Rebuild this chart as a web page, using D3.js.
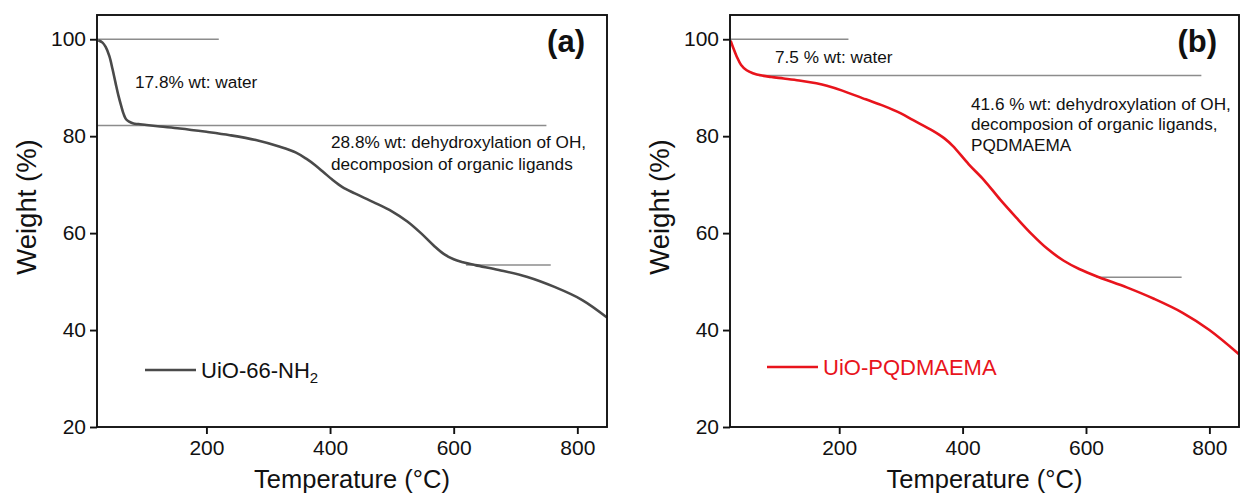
<!DOCTYPE html>
<html>
<head>
<meta charset="utf-8">
<script src="https://cdn.jsdelivr.net/npm/d3@7"></script>
<style>
  body { margin: 0; background: #fff; }
  svg text { font-family: "Liberation Sans", Arial, Helvetica, sans-serif; fill: #111; }
</style>
</head>
<body>
<svg id="chart" width="1241" height="494"></svg>
<script>
// (a) UiO-66-NH2, TGA curve
var tempA   = [25, 32, 37, 43, 48, 53, 58, 62, 66, 70, 75, 82, 90, 103, 125, 157, 200, 238, 280, 319, 345, 362, 376, 390, 403, 420, 440, 470, 500, 525, 547, 568, 585, 600, 615, 635, 673, 718, 763, 808, 848];
var weightA = [99.8, 99.3, 98.4, 96.5, 93.9, 91, 88.2, 86.3, 84.6, 83.5, 83, 82.6, 82.5, 82.3, 82, 81.6, 80.9, 80.2, 79.2, 77.8, 76.6, 75.3, 74, 72.5, 71.1, 69.5, 68.2, 66.4, 64.5, 62.4, 60, 57.4, 55.6, 54.6, 54, 53.4, 52.4, 51, 48.9, 46.2, 42.6];

// (b) UiO-PQDMAEMA
var tempB   = [24, 28, 34, 41, 50, 60, 75, 90, 110, 135, 163, 180, 205, 243, 271, 300, 320, 352, 370, 384, 410, 435, 461, 487, 512, 538, 564, 589, 621, 666, 711, 756, 800, 848];
var weightB = [99.7, 98.3, 96.4, 94.7, 93.6, 93, 92.5, 92.2, 91.9, 91.5, 90.9, 90.4, 89.4, 87.6, 86.3, 84.7, 83.3, 81.1, 79.6, 78, 74.2, 70.9, 66.9, 63.2, 59.8, 56.7, 54.3, 52.6, 50.9, 48.8, 46.4, 43.6, 40, 35];

var xTicks = [200, 400, 600, 800];
var yTicks = [20, 40, 60, 80, 100];
var xDomain = [23, 848];
var yDomain = [20, 105];

// weight-loss step guides: [weight, from temp, to temp]
var stepsA = [[100, 23, 220], [82.2, 23, 750], [53.4, 620, 757]];
var stepsB = [[100, 23, 215], [92.5, 70, 787], [50.9, 617, 755]];

var notesA1 = ["17.8% wt: water"];
var notesA2 = ["28.8% wt: dehydroxylation of OH,", "decomposion of organic ligands"];
var notesB1 = ["7.5 % wt: water"];
var notesB2 = ["41.6 % wt: dehydroxylation of OH,", "decomposion of organic ligands,", "PQDMAEMA"];

var svg = d3.select("#chart");

function drawPanel(p) {
  var x = d3.scaleLinear().domain(xDomain).range([p.left, p.right]);
  var y = d3.scaleLinear().domain(yDomain).range([p.bottom, p.top]);
  var g = svg.append("g");

  // guide lines
  g.selectAll(".step")
    .data(p.steps)
    .enter().append("line")
    .attr("x1", function(d) { return x(d[1]); })
    .attr("x2", function(d) { return x(d[2]); })
    .attr("y1", function(d) { return y(d[0]); })
    .attr("y2", function(d) { return y(d[0]); })
    .style("stroke", "#8c8c8c")
    .style("stroke-width", 1.5);

  var pts = p.temp.map(function(t, i) { return [t, p.weight[i]]; });
  var line = d3.line()
    .x(function(d) { return x(d[0]); })
    .y(function(d) { return y(d[1]); })
    .curve(d3.curveCatmullRom.alpha(0.5));

  g.append("path")
    .datum(pts)
    .attr("d", line)
    .style("fill", "none")
    .style("stroke", p.color)
    .style("stroke-width", 2.6)
    .style("stroke-linejoin", "round");

  // frame
  g.append("rect")
    .attr("x", p.left).attr("y", p.top)
    .attr("width", p.right - p.left).attr("height", p.bottom - p.top)
    .style("fill", "none").style("stroke", "#111").style("stroke-width", 1.9);

  var xa = g.append("g")
    .attr("transform", "translate(0," + p.bottom + ")")
    .call(d3.axisBottom(x).tickValues(xTicks).tickSize(7).tickPadding(6));
  var ya = g.append("g")
    .attr("transform", "translate(" + p.left + ",0)")
    .call(d3.axisLeft(y).tickValues(yTicks).tickSize(7).tickPadding(4));
  [xa, ya].forEach(function(a) {
    a.select(".domain").remove();
    a.selectAll("line").style("stroke", "#111").style("stroke-width", 1.9);
    a.selectAll("text")
      .style("font-size", "21px")
      .style("font-family", "'Liberation Sans', Arial, sans-serif")
      .style("fill", "#111");
  });

  g.append("text")
    .attr("x", (p.left + p.right) / 2)
    .attr("y", 488)
    .attr("text-anchor", "middle")
    .style("font-size", "25.5px")
    .text("Temperature (\u00B0C)");

  g.append("text")
    .attr("transform", "translate(" + (p.left - 61) + ",207) rotate(-90)")
    .attr("text-anchor", "middle")
    .style("font-size", "27.5px")
    .text("Weight (%)");

  g.append("text")
    .attr("x", p.right - 22)
    .attr("y", 52)
    .attr("text-anchor", "end")
    .style("font-size", "31px")
    .style("font-weight", "bold")
    .text(p.tag);

  function notes(lines, nx, ny, gap) {
    g.append("g").selectAll("text")
      .data(lines)
      .enter().append("text")
      .attr("x", nx)
      .attr("y", function(d, i) { return ny + i * gap; })
      .style("font-size", "17.2px")
      .text(function(d) { return d; });
  }
  notes(p.notes1, p.left + p.n1[0], p.n1[1], 21);
  notes(p.notes2, p.left + p.n2[0], p.n2[1], p.n2[2]);

  // legend
  g.append("line")
    .attr("x1", p.left + p.leg[0]).attr("x2", p.left + p.leg[0] + 51)
    .attr("y1", p.leg[1]).attr("y2", p.leg[1])
    .style("stroke", p.color).style("stroke-width", 2.6);
  var lt = g.append("text")
    .attr("x", p.left + p.leg[0] + 56)
    .attr("y", p.leg[1] + 7.5)
    .style("font-size", "22px")
    .style("fill", p.legColor);
  lt.append("tspan").text(p.label);
  if (p.sub) {
    lt.append("tspan").attr("dy", 5).style("font-size", "15px").text(p.sub);
  }
}

drawPanel({
  left: 97, right: 607, top: 15, bottom: 427,
  temp: tempA, weight: weightA, steps: stepsA,
  color: "#4a4a4a", legColor: "#111", tag: "(a)",
  label: "UiO-66-NH", sub: "2",
  notes1: notesA1, n1: [38, 88],
  notes2: notesA2, n2: [234, 148, 22],
  leg: [48, 370]
});

drawPanel({
  left: 730, right: 1239, top: 15, bottom: 427,
  temp: tempB, weight: weightB, steps: stepsB,
  color: "#e8141c", legColor: "#e8141c", tag: "(b)",
  label: "UiO-PQDMAEMA", sub: null,
  notes1: notesB1, n1: [45, 63],
  notes2: notesB2, n2: [241, 110, 20.3],
  leg: [37, 367]
});
</script>
</body>
</html>
